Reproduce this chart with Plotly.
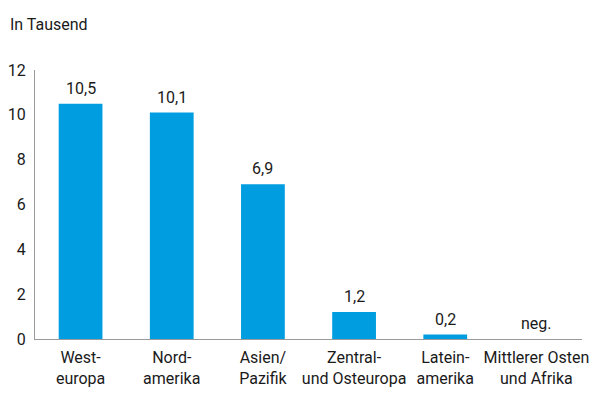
import plotly.graph_objects as go

categories = ["West-<br>europa", "Nord-<br>amerika", "Asien/<br>Pazifik",
              "Zentral-<br>und Osteuropa", "Latein-<br>amerika", "Mittlerer Osten<br>und Afrika"]
values = [10.5, 10.1, 6.9, 1.2, 0.2, 0]
value_labels = ["10,5", "10,1", "6,9", "1,2", "0,2", "neg."]
y_ticks = [0, 2, 4, 6, 8, 10, 12]

FONT = "Roboto, Arial, sans-serif"
TXT = "#1a1a1a"

fig = go.Figure(go.Bar(
    x=categories, y=values,
    marker=dict(color="#009EE0", line=dict(width=0)),
    hoverinfo="skip",
))

for c, v, t in zip(categories, values, value_labels):
    fig.add_annotation(x=c, y=v, text=t, showarrow=False, yanchor="bottom",
                       yshift=4, font=dict(size=16, family=FONT, color=TXT))

fig.update_layout(
    width=600, height=400,
    margin=dict(l=35, r=18, t=70, b=61),
    plot_bgcolor="white", paper_bgcolor="white",
    bargap=0.52,
    showlegend=False,
    font=dict(family=FONT, size=16, color=TXT),
    title=dict(text="In Tausend", xref="container", yref="container",
               x=10/600, y=1-24/400, xanchor="left", yanchor="middle",
               font=dict(size=16, family=FONT, color=TXT)),
)
fig.update_yaxes(range=[0, 12], tickvals=y_ticks, showgrid=False, zeroline=False,
                 showline=True, linecolor="#9a9a9a", linewidth=1, ticks="",
                 ticklabelstandoff=5, tickfont=dict(size=16), automargin=False)
fig.update_xaxes(showline=True, linecolor="#9a9a9a", linewidth=1, ticks="",
                 tickfont=dict(size=16), ticklabelstandoff=4, automargin=False)

fig.write_html("out.html", config={"displayModeBar": False},
               post_script="document.body.style.margin='0';")
